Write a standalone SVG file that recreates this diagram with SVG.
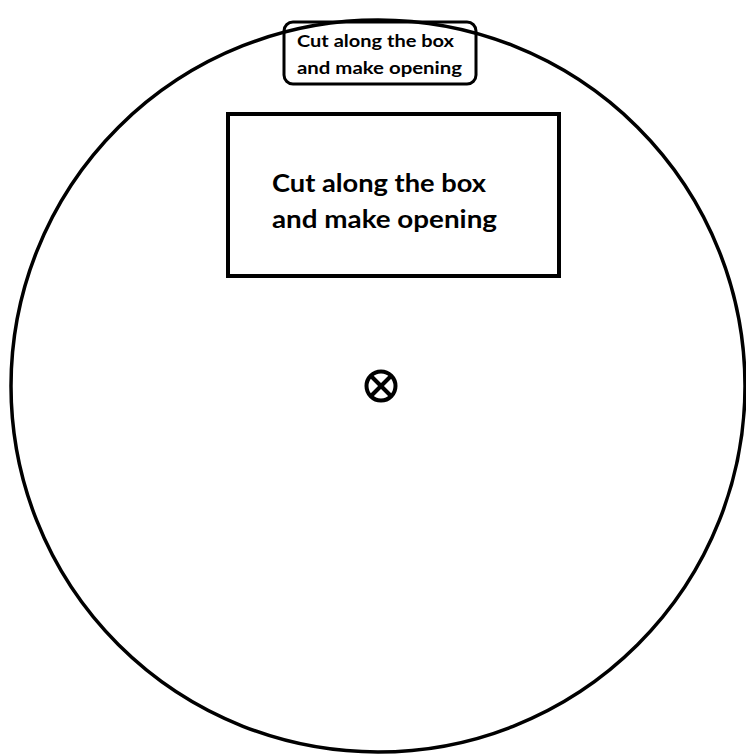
<svg xmlns="http://www.w3.org/2000/svg" width="746" height="756" viewBox="0 0 746 756">
<style>
.ln{fill:none;stroke:#000;}
.t{font-family:Lato,"Open Sans","Liberation Sans",sans-serif;font-weight:bold;fill:#000;}
</style>
<rect width="746" height="756" fill="#fff"/>
<g id="disc">
<ellipse class="ln" cx="378" cy="386" rx="367" ry="366" stroke-width="3.5"/>
</g>
<g id="small-label">
<rect class="ln" x="284" y="22" width="192" height="62" rx="9" fill="#fff" stroke-width="3"/>
<text class="t" x="297" y="47" font-size="17.5" textLength="157" lengthAdjust="spacingAndGlyphs">Cut along the box</text>
<text class="t" x="297" y="74" font-size="17.5" textLength="165" lengthAdjust="spacingAndGlyphs">and make opening</text>
</g>
<g id="cut-box">
<rect class="ln" x="228" y="114" width="331" height="162" stroke-width="4"/>
<text class="t" x="272" y="192" font-size="25" textLength="214" lengthAdjust="spacingAndGlyphs">Cut along the box</text>
<text class="t" x="272" y="228" font-size="25" textLength="225" lengthAdjust="spacingAndGlyphs">and make opening</text>
</g>
<g id="center-mark">
<circle class="ln" cx="381" cy="386" r="14.5" stroke-width="4"/>
<line class="ln" x1="371" y1="376" x2="391" y2="396" stroke-width="4"/>
<line class="ln" x1="391" y1="376" x2="371" y2="396" stroke-width="4"/>
</g>
</svg>
